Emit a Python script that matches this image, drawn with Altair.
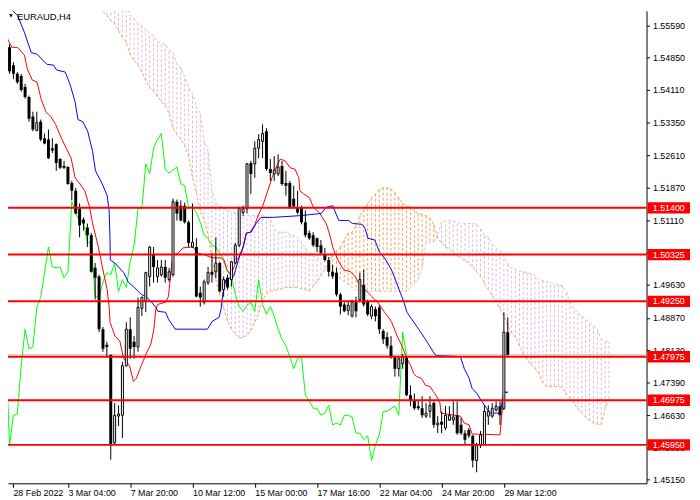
import altair as alt
import pandas as pd

# EURAUD H4 candles, bar 0 = 28 Feb 2022 12:00 (prices)
opens = [1.5532, 1.5509, 1.5468, 1.5448, 1.5443, 1.5418, 1.5395, 1.5350, 1.5318, 1.5338,
         1.5300, 1.5297, 1.5277, 1.5286, 1.5252, 1.5236, 1.5234, 1.5197, 1.5179, 1.5138,
         1.5113, 1.5095, 1.5077, 1.5002, 1.4982, 1.4861, 1.4825, 1.4802, 1.4600, 1.4661,
         1.4663, 1.4777, 1.4861, 1.4832, 1.4820, 1.4909, 1.4925, 1.4982, 1.5032, 1.4982,
         1.4986, 1.5004, 1.4975, 1.4986, 1.5154, 1.5145, 1.5145, 1.5107, 1.5050, 1.5050,
         1.4945, 1.4923, 1.4968, 1.4993, 1.4993, 1.5013, 1.4952, 1.4979, 1.4975, 1.5013,
         1.5054, 1.5129, 1.5138, 1.5243, 1.5241, 1.5277, 1.5293, 1.5316, 1.5229, 1.5218,
         1.5218, 1.5236, 1.5197, 1.5197, 1.5161, 1.5141, 1.5141, 1.5107, 1.5082, 1.5077,
         1.5070, 1.5054, 1.5032, 1.5020, 1.4993, 1.4991, 1.4941, 1.4918, 1.4904, 1.4891,
         1.4923, 1.4929, 1.4963, 1.4925, 1.4891, 1.4907, 1.4911, 1.4857, 1.4843, 1.4823,
         1.4798, 1.4770, 1.4782, 1.4798, 1.4709, 1.4697, 1.4684, 1.4679, 1.4661, 1.4672,
         1.4691, 1.4641, 1.4648, 1.4634, 1.4652, 1.4652, 1.4663, 1.4641, 1.4622, 1.4629,
         1.4616, 1.4559, 1.4595, 1.4595, 1.4661, 1.4661, 1.4675, 1.4684, 1.4679, 1.4854]
highs = [1.5543, 1.5516, 1.5475, 1.5452, 1.5448, 1.5425, 1.5398, 1.5361, 1.5361, 1.5343,
         1.5311, 1.5320, 1.5300, 1.5288, 1.5254, 1.5248, 1.5236, 1.5202, 1.5186, 1.5150,
         1.5118, 1.5104, 1.5082, 1.5013, 1.4986, 1.4866, 1.4832, 1.4802, 1.4691, 1.4686,
         1.4786, 1.4877, 1.4888, 1.4845, 1.4934, 1.4936, 1.4993, 1.5052, 1.5050, 1.5020,
         1.5020, 1.5020, 1.5002, 1.5161, 1.5159, 1.5157, 1.5152, 1.5111, 1.5150, 1.5070,
         1.4959, 1.4975, 1.5004, 1.5036, 1.5072, 1.5016, 1.4982, 1.4986, 1.5018, 1.5059,
         1.5143, 1.5145, 1.5243, 1.5248, 1.5293, 1.5309, 1.5332, 1.5323, 1.5252, 1.5259,
         1.5263, 1.5248, 1.5225, 1.5202, 1.5191, 1.5179, 1.5145, 1.5134, 1.5088, 1.5084,
         1.5072, 1.5066, 1.5048, 1.5027, 1.5009, 1.5002, 1.4945, 1.4923, 1.4925, 1.4929,
         1.4936, 1.4991, 1.4998, 1.4929, 1.4918, 1.4913, 1.4916, 1.4861, 1.4854, 1.4845,
         1.4800, 1.4798, 1.4804, 1.4800, 1.4732, 1.4713, 1.4697, 1.4707, 1.4691, 1.4707,
         1.4695, 1.4661, 1.4672, 1.4684, 1.4684, 1.4695, 1.4695, 1.4657, 1.4629, 1.4634,
         1.4618, 1.4600, 1.4627, 1.4686, 1.4686, 1.4691, 1.4695, 1.4695, 1.4900, 1.4888]
lows = [1.5475, 1.5448, 1.5436, 1.5425, 1.5407, 1.5391, 1.5338, 1.5316, 1.5316, 1.5293,
        1.5286, 1.5252, 1.5266, 1.5225, 1.5229, 1.5229, 1.5193, 1.5157, 1.5125, 1.5072,
        1.5088, 1.5050, 1.4991, 1.4929, 1.4854, 1.4809, 1.4798, 1.4561, 1.4595, 1.4638,
        1.4611, 1.4775, 1.4793, 1.4793, 1.4809, 1.4891, 1.4900, 1.4959, 1.4968, 1.4968,
        1.4982, 1.4968, 1.4970, 1.4982, 1.5111, 1.5109, 1.5104, 1.5050, 1.5048, 1.4934,
        1.4913, 1.4918, 1.4963, 1.4968, 1.4979, 1.4945, 1.4936, 1.4952, 1.4959, 1.5011,
        1.5050, 1.5122, 1.5127, 1.5172, 1.5209, 1.5254, 1.5254, 1.5225, 1.5202, 1.5202,
        1.5213, 1.5191, 1.5168, 1.5138, 1.5138, 1.5125, 1.5102, 1.5072, 1.5066, 1.5050,
        1.5038, 1.5032, 1.5016, 1.4982, 1.4977, 1.4936, 1.4895, 1.4900, 1.4893, 1.4888,
        1.4888, 1.4923, 1.4913, 1.4891, 1.4884, 1.4879, 1.4850, 1.4827, 1.4816, 1.4793,
        1.4752, 1.4752, 1.4770, 1.4707, 1.4684, 1.4675, 1.4675, 1.4657, 1.4657, 1.4657,
        1.4634, 1.4622, 1.4622, 1.4629, 1.4650, 1.4641, 1.4618, 1.4618, 1.4595, 1.4611,
        1.4543, 1.4532, 1.4588, 1.4595, 1.4641, 1.4657, 1.4672, 1.4641, 1.4675, 1.4800]
closes = [1.5486, 1.5454, 1.5448, 1.5429, 1.5411, 1.5395, 1.5345, 1.5320, 1.5336, 1.5297,
          1.5288, 1.5254, 1.5272, 1.5243, 1.5232, 1.5232, 1.5195, 1.5179, 1.5127, 1.5100,
          1.5104, 1.5077, 1.4993, 1.4979, 1.4861, 1.4816, 1.4820, 1.4595, 1.4663, 1.4666,
          1.4777, 1.4861, 1.4816, 1.4820, 1.4911, 1.4934, 1.4991, 1.5050, 1.5004, 1.5002,
          1.5004, 1.4979, 1.4993, 1.5154, 1.5127, 1.5111, 1.5107, 1.5059, 1.5061, 1.4936,
          1.4934, 1.4970, 1.4991, 1.4986, 1.5013, 1.4948, 1.4975, 1.4957, 1.5016, 1.5054,
          1.5138, 1.5138, 1.5241, 1.5218, 1.5277, 1.5297, 1.5311, 1.5229, 1.5220, 1.5227,
          1.5234, 1.5195, 1.5191, 1.5141, 1.5143, 1.5129, 1.5107, 1.5077, 1.5070, 1.5054,
          1.5050, 1.5036, 1.5020, 1.4993, 1.4982, 1.4941, 1.4913, 1.4902, 1.4916, 1.4923,
          1.4902, 1.4975, 1.4918, 1.4895, 1.4913, 1.4891, 1.4861, 1.4838, 1.4823, 1.4798,
          1.4770, 1.4793, 1.4798, 1.4709, 1.4697, 1.4679, 1.4679, 1.4663, 1.4668, 1.4686,
          1.4641, 1.4645, 1.4641, 1.4663, 1.4663, 1.4659, 1.4622, 1.4622, 1.4607, 1.4616,
          1.4559, 1.4595, 1.4618, 1.4672, 1.4672, 1.4679, 1.4684, 1.4663, 1.4854, 1.4802]

# Tenkan-sen (red) and Kijun-sen (blue): bar position, price
tenkan_bar = [-0.15, 0.58, 1.58, 3.08, 4.83, 5.58, 6.83, 8.08, 9.08, 10.33, 11.58, 12.83, 14.33,
              15.58, 16.83, 17.83, 19.08, 20.33, 21.58, 22.33, 23.58, 24.33, 24.83, 26.08, 26.58,
              26.83, 28.08, 29.33, 30.33, 31.08, 31.83, 32.83, 33.58, 34.83, 36.08, 37.33, 38.08,
              38.58, 39.08, 41.08, 41.83, 42.33, 42.83, 43.08, 44.33, 45.58, 48.08, 49.33, 51.08,
              53.08, 55.33, 56.08, 56.83, 57.83, 58.58, 59.33, 60.58, 61.83, 62.83, 64.08, 64.83,
              66.08, 67.33, 68.58, 69.83, 70.58, 71.83, 73.08, 74.33, 75.33, 75.58, 76.58, 78.08,
              79.08, 80.58, 82.33, 83.08, 84.08, 84.83, 85.58, 86.83, 88.58, 89.83, 90.58, 92.33,
              94.08, 95.58, 97.33, 99.08, 100.58, 101.58, 102.33, 103.08, 104.08, 104.83, 105.58,
              106.83, 107.83, 109.08, 109.83, 110.58, 111.58, 111.83, 116.83, 117.83, 119.08,
              119.83, 127, 128, 129]
tenkan_val = [1.5559, 1.5527, 1.5509, 1.5509, 1.5491, 1.5459, 1.5434, 1.5429, 1.5391, 1.5361,
              1.5350, 1.5332, 1.5300, 1.5277, 1.5254, 1.5209, 1.5195, 1.5179, 1.5141, 1.5104,
              1.5059, 1.5027, 1.5004, 1.4952, 1.4913, 1.4877, 1.4845, 1.4834, 1.4793, 1.4786,
              1.4777, 1.4741, 1.4748, 1.4777, 1.4804, 1.4827, 1.4861, 1.4907, 1.4918, 1.4923,
              1.4936, 1.4982, 1.5020, 1.5032, 1.5036, 1.5048, 1.5050, 1.5036, 1.5032, 1.5025,
              1.5025, 1.5020, 1.4998, 1.4986, 1.5002, 1.5020, 1.5036, 1.5082, 1.5084, 1.5102,
              1.5122, 1.5145, 1.5179, 1.5213, 1.5241, 1.5252, 1.5248, 1.5232, 1.5229, 1.5209,
              1.5179, 1.5172, 1.5163, 1.5141, 1.5129, 1.5104, 1.5084, 1.5048, 1.5032, 1.5016,
              1.4998, 1.4993, 1.4982, 1.4968, 1.4952, 1.4936, 1.4923, 1.4900, 1.4879, 1.4845,
              1.4827, 1.4811, 1.4793, 1.4777, 1.4759, 1.4752, 1.4748, 1.4732, 1.4729, 1.4718,
              1.4709, 1.4691, 1.4668, 1.4661, 1.4645, 1.4641, 1.4620, 1.4618, 1.4716, 1.4716]
kijun_bar = [-0.15, 3.08, 4.83, 6.58, 8.08, 10.58, 12.33, 13.08, 15.33, 16.58, 17.83, 18.58,
             19.83, 21.08, 22.33, 23.08, 24.83, 26.08, 26.58, 26.8, 26.9, 28.08, 30.33, 31.58,
             32.83, 34.83, 36.08, 37.33, 38.58, 39.08, 41.08, 41.83, 43.58, 51.83, 53.08, 54.83,
             55.33, 55.83, 56.58, 58.58, 59.08, 60.33, 61.08, 61.83, 63.08, 64.33, 65.58, 68.58,
             75.58, 81.08, 82.33, 84.08, 84.33, 85.58, 88.08, 89.08, 91.58, 92.33, 93.08, 94.83,
             96.08, 97.33, 99.08, 99.83, 101.08, 102.33, 103.08, 104.33, 106.08, 107.83, 108.58,
             109.83, 110.58, 116.83, 117.83, 119.08, 119.83, 121.08, 122.33, 123.58, 124.33,
             127, 128, 129]
kijun_val = [1.5611, 1.5582, 1.5543, 1.5497, 1.5493, 1.5470, 1.5468, 1.5457, 1.5452, 1.5423,
             1.5384, 1.5343, 1.5338, 1.5316, 1.5270, 1.5225, 1.5195, 1.5168, 1.5134, 1.5072,
             1.5020, 1.5013, 1.4991, 1.4968, 1.4959, 1.4941, 1.4936, 1.4925, 1.4911, 1.4902,
             1.4900, 1.4884, 1.4861, 1.4861, 1.4879, 1.4888, 1.4907, 1.4945, 1.4975, 1.4982,
             1.4998, 1.5036, 1.5050, 1.5082, 1.5084, 1.5104, 1.5118, 1.5118, 1.5122, 1.5127,
             1.5141, 1.5145, 1.5138, 1.5111, 1.5111, 1.5104, 1.5102, 1.5093, 1.5070, 1.5066,
             1.5038, 1.5025, 1.4998, 1.4982, 1.4952, 1.4923, 1.4900, 1.4884, 1.4861, 1.4838,
             1.4827, 1.4809, 1.4800, 1.4798, 1.4770, 1.4748, 1.4725, 1.4713, 1.4695, 1.4679,
             1.4668, 1.4668, 1.4716, 1.4716]

# Senkou span A / B, one value per bar starting at bar 22 (cloud runs 26 bars ahead)
cloud_start = 22
senkou_a = [1.5611, 1.5604, 1.5597, 1.5591, 1.5582, 1.5570, 1.5563, 1.5547, 1.5532, 1.5520,
            1.5491, 1.5479, 1.5468, 1.5452, 1.5432, 1.5416, 1.5409, 1.5395, 1.5384, 1.5375,
            1.5357, 1.5323, 1.5309, 1.5297, 1.5282, 1.5259, 1.5209, 1.5175, 1.5132, 1.5113,
            1.5079, 1.5025, 1.4975, 1.4938, 1.4909, 1.4879, 1.4861, 1.4850, 1.4841, 1.4841,
            1.4848, 1.4857, 1.4877, 1.4898, 1.4927, 1.4943, 1.4948, 1.4950, 1.4952, 1.4954,
            1.4957, 1.4957, 1.4957, 1.4957, 1.4954, 1.4952, 1.4948, 1.4959, 1.4970, 1.4984,
            1.4998, 1.5011, 1.5034, 1.5041, 1.5050, 1.5066, 1.5082, 1.5084, 1.5100, 1.5122,
            1.5136, 1.5150, 1.5163, 1.5172, 1.5182, 1.5186, 1.5186, 1.5184, 1.5175, 1.5163,
            1.5150, 1.5145, 1.5141, 1.5134, 1.5127, 1.5125, 1.5122, 1.5116, 1.5102, 1.5070,
            1.5059, 1.5050, 1.5045, 1.5038, 1.5029, 1.5025, 1.5018, 1.5013, 1.5004, 1.4993,
            1.4982, 1.4966, 1.4952, 1.4938, 1.4925, 1.4907, 1.4891, 1.4868, 1.4852, 1.4841,
            1.4823, 1.4804, 1.4791, 1.4779, 1.4770, 1.4759, 1.4738, 1.4729, 1.4729, 1.4729,
            1.4729, 1.4727, 1.4711, 1.4702, 1.4691, 1.4677, 1.4668, 1.4659, 1.4650, 1.4645,
            1.4643, 1.4641, 1.4679, 1.4702]
senkou_b = [1.5638, 1.5634, 1.5632, 1.5629, 1.5627, 1.5622, 1.5620, 1.5616, 1.5613, 1.5611,
            1.5582, 1.5575, 1.5563, 1.5559, 1.5550, 1.5541, 1.5536, 1.5522, 1.5518, 1.5516,
            1.5502, 1.5495, 1.5470, 1.5463, 1.5441, 1.5418, 1.5402, 1.5372, 1.5357, 1.5293,
            1.5270, 1.5179, 1.5152, 1.5145, 1.5138, 1.5134, 1.5132, 1.5129, 1.5125, 1.5122,
            1.5122, 1.5122, 1.5122, 1.5122, 1.5122, 1.5120, 1.5113, 1.5091, 1.5084, 1.5084,
            1.5084, 1.5079, 1.5077, 1.5070, 1.5061, 1.5048, 1.5036, 1.5029, 1.5025, 1.5013,
            1.5007, 1.5000, 1.4993, 1.4984, 1.4977, 1.4970, 1.4963, 1.4957, 1.4952, 1.4950,
            1.4948, 1.4948, 1.4948, 1.4948, 1.4948, 1.4948, 1.4948, 1.4948, 1.4948, 1.4948,
            1.4948, 1.4948, 1.4957, 1.4968, 1.4975, 1.5002, 1.5061, 1.5061, 1.5061, 1.5077,
            1.5107, 1.5109, 1.5111, 1.5109, 1.5107, 1.5104, 1.5104, 1.5104, 1.5104, 1.5102,
            1.5093, 1.5077, 1.5072, 1.5057, 1.5048, 1.5043, 1.5032, 1.5011, 1.5000, 1.4998,
            1.4995, 1.4993, 1.4991, 1.4988, 1.4984, 1.4975, 1.4973, 1.4970, 1.4968, 1.4966,
            1.4963, 1.4961, 1.4948, 1.4925, 1.4907, 1.4898, 1.4891, 1.4884, 1.4877, 1.4870,
            1.4861, 1.4838, 1.4834, 1.4832]

levels = [1.51400, 1.50325, 1.49250, 1.47975, 1.46975, 1.45950]
bid = 1.4802

price_ticks = [1.5559, 1.5485, 1.5411, 1.5335, 1.5261, 1.5187, 1.5111, 1.5037,
               1.4963, 1.4887, 1.4813, 1.4739, 1.4663, 1.4589, 1.4515]
time_ticks = [1.875, 16, 32, 48, 64, 80, 96, 112, 128]
time_labels = ["28 Feb 2022", "3 Mar 04:00", "7 Mar 20:00", "10 Mar 12:00", "15 Mar 00:00",
               "17 Mar 16:00", "22 Mar 04:00", "24 Mar 20:00", "29 Mar 12:00"]

ORANGE = "#F4A460"
THISTLE = "#D8BFD8"

# --- tables ---
candles = pd.DataFrame({"bar": range(len(opens)), "open": opens, "high": highs,
                        "low": lows, "close": closes})
chikou = pd.DataFrame({"bar": range(len(closes) - 26), "price": closes[26:]})
cloud = pd.DataFrame({"bar": range(cloud_start, cloud_start + len(senkou_a)),
                      "a": senkou_a, "b": senkou_b})
tenkan = pd.DataFrame({"bar": tenkan_bar, "price": tenkan_val, "seq": range(len(tenkan_bar))})
kijun = pd.DataFrame({"bar": kijun_bar, "price": kijun_val, "seq": range(len(kijun_bar))})
lev = pd.DataFrame({"price": levels, "label": [f"{v:.5f}" for v in levels]})

label_expr = " : ".join(f"datum.value == {v} ? '{t}'" for v, t in zip(time_ticks, time_labels)) + " : ''"

x_scale = alt.Scale(domain=[1.875, 163.375], nice=False, zero=False)
y_scale = alt.Scale(domain=[1.45066, 1.55929], nice=False, zero=False)
x_axis = alt.Axis(values=time_ticks, labelExpr=label_expr, title=None, tickSize=4,
                  labelAlign="left", labelPadding=1, labelOverlap=False, labelFlush=False)
y_axis = alt.Axis(orient="right", values=price_ticks, format=".5f", title=None,
                  tickSize=3, labelPadding=3, labelOverlap=False, labelFlush=False)


def X(f="bar"):
    return alt.X(f"{f}:Q", scale=x_scale, axis=x_axis)


def Y(f):
    return alt.Y(f"{f}:Q", scale=y_scale, axis=y_axis)


# cloud hatch + span lines
hatch = alt.Chart(cloud).mark_rule(strokeDash=[3, 2], strokeWidth=1, clip=True).encode(
    x=X(), y=Y("a"), y2="b",
    color=alt.condition(alt.datum.a > alt.datum.b, alt.value(ORANGE), alt.value(THISTLE)))
span_a = alt.Chart(cloud).mark_line(color=ORANGE, strokeDash=[3, 2], strokeWidth=1, clip=True).encode(
    x=X(), y=Y("a"))
span_b = alt.Chart(cloud).mark_line(color=THISTLE, strokeDash=[3, 2], strokeWidth=1, clip=True).encode(
    x=X(), y=Y("b"))

chikou_line = alt.Chart(chikou).mark_line(color="#00FF00", strokeWidth=1, clip=True).encode(
    x=X(), y=Y("price"))
tenkan_line = alt.Chart(tenkan).mark_line(color="#FF0000", strokeWidth=1, clip=True).encode(
    x=X(), y=Y("price"), order="seq:Q")
kijun_line = alt.Chart(kijun).mark_line(color="#0000FF", strokeWidth=1, clip=True).encode(
    x=X(), y=Y("price"), order="seq:Q")

# candles
wicks = alt.Chart(candles).mark_rule(color="black", strokeWidth=1, clip=True).encode(
    x=X(), y=Y("low"), y2="high")
bear = alt.Chart(candles).transform_filter(alt.datum.close < alt.datum.open).mark_bar(
    size=3, color="black", clip=True).encode(x=X(), y=Y("open"), y2="close")
bull = alt.Chart(candles).transform_filter(alt.datum.close >= alt.datum.open).mark_bar(
    size=2, fill="white", stroke="black", strokeWidth=1, clip=True).encode(
    x=X(), y=Y("open"), y2="close")

# horizontal levels and bid line
bid_line = alt.Chart(pd.DataFrame({"price": [bid]})).mark_rule(color="#C0C0C0", strokeWidth=1).encode(
    y=Y("price"))
level_lines = alt.Chart(lev).mark_rule(color="#FF0000", strokeWidth=2).encode(y=Y("price"))
level_box = alt.Chart(lev).mark_rule(color="#FF0000", strokeWidth=11.5).encode(
    y=Y("price"), x=alt.value(647), x2=alt.value(690))
level_txt = alt.Chart(lev).mark_text(color="white", font="Liberation Sans", fontSize=9,
                                     baseline="middle", align="center").encode(
    y=Y("price"), x=alt.value(668.5), text="label:N")

title = alt.Chart(pd.DataFrame({"t": ["EURAUD,H4"]})).mark_text(
    align="left", baseline="top", font="Liberation Sans", fontSize=9.5, color="black").encode(
    x=alt.value(9), y=alt.value(1), text="t:N")
marker = alt.Chart(pd.DataFrame({"t": [0]})).mark_point(
    shape="triangle-down", filled=True, color="black", size=14, opacity=1).encode(
    x=alt.value(3), y=alt.value(5))

chart = alt.layer(
    hatch, span_a, span_b, bid_line, chikou_line, tenkan_line, kijun_line,
    wicks, bear, bull, level_lines, level_box, level_txt, title, marker
).properties(
    width=646, height=478,
    autosize=alt.AutoSizeParams(type="none"),
    padding={"left": 0, "top": 0, "right": 46, "bottom": 14},
    background="white",
).configure_view(strokeWidth=0).configure_axis(
    grid=False, domainColor="black", tickColor="black", labelColor="black",
    labelFont="Liberation Sans", labelFontSize=9, domainWidth=1, tickWidth=1,
)

chart.save("out.html", embed_options={"renderer": "svg", "actions": False})
